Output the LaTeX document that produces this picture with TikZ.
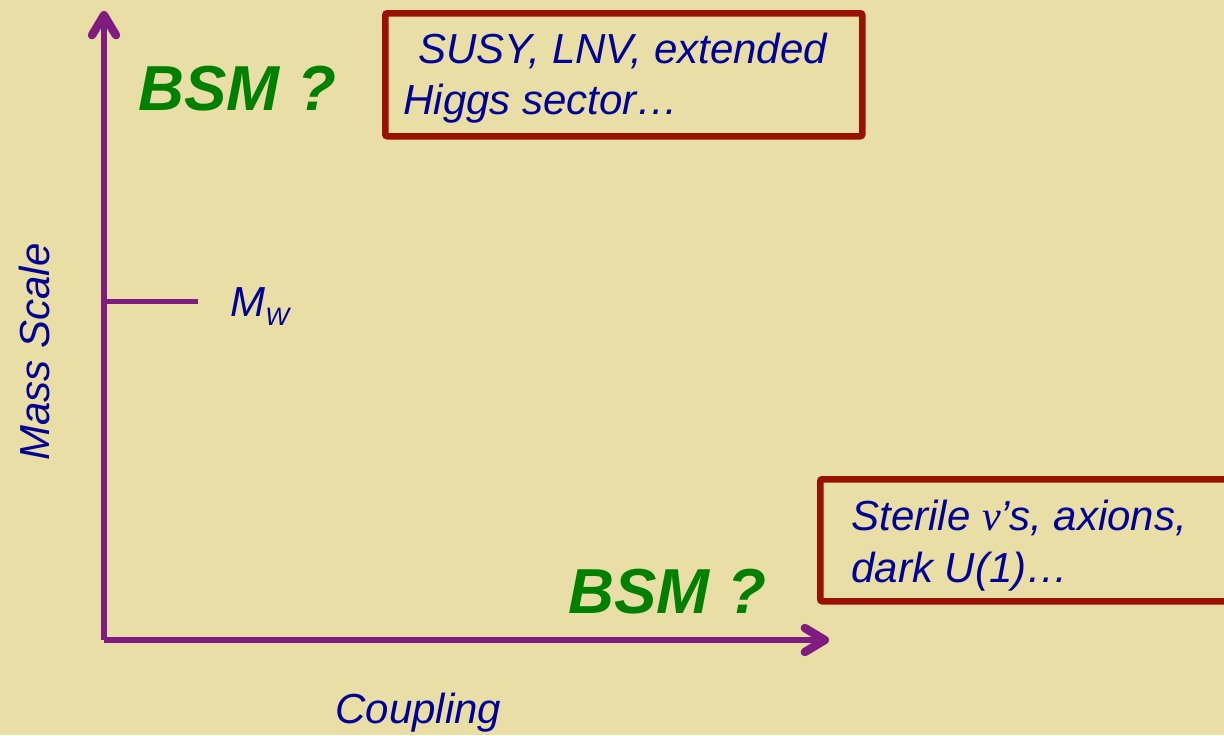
\documentclass[tikz,border=0pt]{standalone}
\usepackage{fontspec}
\setmainfont{Liberation Sans}
\newfontfamily\greekfont{Liberation Serif}
\usetikzlibrary{arrows.meta}
\definecolor{bgtan}{RGB}{233,222,166}
\definecolor{navytext}{RGB}{0,0,150}
\definecolor{bsmgreen}{RGB}{0,128,0}
\definecolor{boxred}{RGB}{153,17,0}
\definecolor{axispurple}{RGB}{128,28,128}
\tikzset{
  axis/.style={draw=axispurple, line width=2.75pt,
    -{Straight Barb[length=10pt, width=12pt, line width=4.2pt, round]}},
  tick/.style={draw=axispurple, line width=2.75pt},
  label/.style={text=navytext, font=\fontsize{21}{25}\selectfont\itshape, inner sep=0pt},
  bsm/.style={text=bsmgreen, font=\fontsize{31.8}{36}\selectfont\bfseries\itshape, inner sep=0pt},
  framebox/.style={draw=boxred, line width=3.25pt, rounded corners=1pt, inner sep=0pt},
}
\begin{document}
\begin{tikzpicture}[x=0.5pt, y=-0.5pt]
  \clip (0,0) rectangle (1224,735);
  \fill[bgtan] (0,0) rectangle (1224,735);

  % axes
  \coordinate (origin) at (104,640);
  \coordinate (ytip) at (104,11);
  \coordinate (xtip) at (829,640);
  \draw[axis] (origin) -- (ytip);
  \draw[axis] (origin) -- (xtip);

  % W mass tick
  \coordinate (mwbase) at (104,301.5);
  \coordinate (mwend) at (198,301.5);
  \draw[tick] (mwbase) -- (mwend);
  \node[label, anchor=base west] (mw) at (230,316)
    {M\raisebox{-4.7pt}{\fontsize{12.6}{13}\selectfont W}};

  % axis titles
  \node[label, anchor=base, rotate=90] (massscale) at (49,352) {Mass Scale};
  \node[label, anchor=base west] (coupling) at (335,723) {Coupling};

  % heavy new physics
  \node[bsm, anchor=base west] (bsmtop) at (138,110) {BSM ?};
  \node[framebox, anchor=north west,
        minimum width=238.5pt, minimum height=61.5pt] (heavybox) at (382,10) {};
  \node[label, anchor=base west] (heavy1) at (418,63) {SUSY, LNV, extended};
  \node[label, anchor=base west] (heavy2) at (403,114) {Higgs sector…};

  % light, weakly coupled new physics
  \node[bsm, anchor=base west] (bsmbottom) at (568,613) {BSM ?};
  \node[framebox, anchor=north west,
        minimum width=250pt, minimum height=61pt] (lightbox) at (817,476) {};
  \node[label, anchor=base west] (light1) at (851,530)
    {Sterile {\greekfont\itshape ν}’s, axions,};
  \node[label, anchor=base west] (light2) at (851,582) {dark U(1)…};
\end{tikzpicture}
\end{document}
